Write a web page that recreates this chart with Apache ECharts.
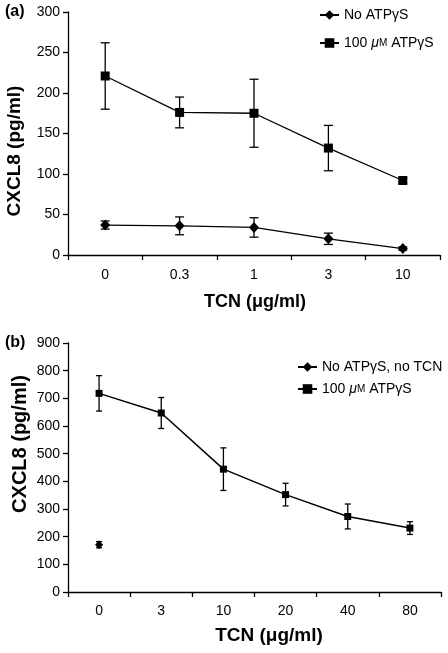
<!DOCTYPE html>
<html><head><meta charset="utf-8">
<script src="https://cdn.jsdelivr.net/npm/echarts@6/dist/echarts.min.js"></script>
<style>html,body{margin:0;padding:0;background:#fff}#c{width:448px;height:653px}</style>
</head><body><div id="c"></div>
<script>
const catsA = ['0', '0.3', '1', '3', '10'];
const atpA = [221, 176, 175, 132, 92];
const atpAErr = [41, 19, 42, 28, 3];
const noAtpA = [37, 36, 34, 20, 8];
const noAtpAErr = [5, 11, 12, 7, 2];

const catsB = ['0', '3', '10', '20', '40', '80'];
const atpB = [718, 647, 444, 352, 273, 231];
const atpBErr = [64, 56, 77, 41, 45, 23];
const noAtpB = [171];
const noAtpBErr = [11];

const FONT = '"Liberation Sans", Arial, Helvetica, sans-serif';

function errData(vals, errs) {
  return vals.map((v, i) => [i, v - errs[i], v + errs[i]]);
}
function errSeries(xi, yi, vals, errs, cap) {
  return {
    type: 'custom', xAxisIndex: xi, yAxisIndex: yi, silent: true, z: 1,
    data: errData(vals, errs),
    renderItem: function (params, api) {
      const lo = api.coord([api.value(0), api.value(1)]);
      const hi = api.coord([api.value(0), api.value(2)]);
      const st = { stroke: '#000', lineWidth: 1.3 };
      return { type: 'group', children: [
        { type: 'line', shape: { x1: lo[0], y1: lo[1], x2: hi[0], y2: hi[1] }, style: st },
        { type: 'line', shape: { x1: hi[0] - cap, y1: hi[1], x2: hi[0] + cap, y2: hi[1] }, style: st },
        { type: 'line', shape: { x1: lo[0] - cap, y1: lo[1], x2: lo[0] + cap, y2: lo[1] }, style: st }
      ]};
    }
  };
}

const axisLine = { show: true, lineStyle: { color: '#000', width: 1.3 } };
const axisTick = { show: true, length: 5, lineStyle: { color: '#000', width: 1.3 } };
const axisLabel = { color: '#000', fontSize: 14, fontFamily: FONT };
const rich = {
  i: { fontStyle: 'italic', fontSize: 14, fontFamily: FONT, color: '#000' },
  s: { fontSize: 10, fontFamily: FONT, color: '#000' }
};
function legendFmt(name) {
  return name.replace('μM', '{i|μ}{s|M}');
}

const chart = echarts.init(document.getElementById('c'), null, { renderer: 'canvas' });
chart.setOption({
  animation: false,
  backgroundColor: '#fff',
  textStyle: { fontFamily: FONT },
  grid: [
    { left: 68, top: 12, width: 372, height: 243 },
    { left: 68, top: 343, width: 373, height: 249 }
  ],
  xAxis: [
    { type: 'category', gridIndex: 0, data: catsA, boundaryGap: true, axisLine, axisTick: Object.assign({ interval: 0 }, axisTick), axisLabel: Object.assign({ margin: 13 }, axisLabel), splitLine: { show: false } },
    { type: 'category', gridIndex: 1, data: catsB, boundaryGap: true, axisLine, axisTick: Object.assign({ interval: 0 }, axisTick), axisLabel: Object.assign({ margin: 12 }, axisLabel), splitLine: { show: false } }
  ],
  yAxis: [
    { type: 'value', gridIndex: 0, min: 0, max: 300, interval: 50, axisLine, axisTick, axisLabel: Object.assign({ margin: 8 }, axisLabel), splitLine: { show: false } },
    { type: 'value', gridIndex: 1, min: 0, max: 900, interval: 100, axisLine, axisTick, axisLabel: Object.assign({ margin: 8 }, axisLabel), splitLine: { show: false } }
  ],
  legend: [
    { orient: 'vertical', left: 319, top: 8, padding: 0, itemWidth: 19, itemHeight: 12, itemGap: 14,
      data: ['No ATPγS', '100 μM ATPγS'], formatter: legendFmt,
      textStyle: { fontSize: 14, color: '#000', fontFamily: FONT, rich: rich } },
    { orient: 'vertical', left: 297, top: 360, padding: 0, itemWidth: 19, itemHeight: 12, itemGap: 8,
      data: ['No ATPγS, no TCN', '100 μM ATPγS '], formatter: legendFmt,
      textStyle: { fontSize: 14, color: '#000', fontFamily: FONT, rich: rich } }
  ],
  graphic: [
    { type: 'text', left: 5, top: 4, style: { text: '(a)', font: 'bold 16px ' + FONT, fill: '#000' } },
    { type: 'text', left: 5, top: 335, style: { text: '(b)', font: 'bold 16px ' + FONT, fill: '#000' } },
    { type: 'text', x: 15, y: 151, rotation: Math.PI / 2, style: { text: 'CXCL8 (pg/ml)', font: 'bold 19px ' + FONT, fill: '#000', align: 'center', verticalAlign: 'middle' } },
    { type: 'text', x: 20, y: 444, rotation: Math.PI / 2, style: { text: 'CXCL8 (pg/ml)', font: 'bold 20px ' + FONT, fill: '#000', align: 'center', verticalAlign: 'middle' } },
    { type: 'text', x: 255, y: 302, style: { text: 'TCN (μg/ml)', font: 'bold 18px ' + FONT, fill: '#000', align: 'center', verticalAlign: 'middle' } },
    { type: 'text', x: 269, y: 636, style: { text: 'TCN (μg/ml)', font: 'bold 19px ' + FONT, fill: '#000', align: 'center', verticalAlign: 'middle' } }
  ],
  series: [
    errSeries(0, 0, atpA, atpAErr, 4.5),
    errSeries(0, 0, noAtpA, noAtpAErr, 4.5),
    errSeries(1, 1, atpB, atpBErr, 3),
    errSeries(1, 1, noAtpB, noAtpBErr, 3),
    { name: 'No ATPγS', type: 'line', xAxisIndex: 0, yAxisIndex: 0, data: noAtpA, symbol: 'diamond', symbolSize: [10, 11], itemStyle: { color: '#000' }, lineStyle: { color: '#000', width: 1.3 }, z: 3 },
    { name: '100 μM ATPγS', type: 'line', xAxisIndex: 0, yAxisIndex: 0, data: atpA, symbol: 'rect', symbolSize: 9, itemStyle: { color: '#000' }, lineStyle: { color: '#000', width: 1.3 }, z: 3 },
    { name: 'No ATPγS, no TCN', type: 'line', xAxisIndex: 1, yAxisIndex: 1, data: noAtpB, symbol: 'diamond', symbolSize: [8, 9], itemStyle: { color: '#000' }, lineStyle: { color: '#000', width: 1.3 }, z: 3 },
    { name: '100 μM ATPγS ', type: 'line', xAxisIndex: 1, yAxisIndex: 1, data: atpB, symbol: 'rect', symbolSize: 7, itemStyle: { color: '#000' }, lineStyle: { color: '#000', width: 1.5 }, z: 3 }
  ]
});
</script></body></html>
